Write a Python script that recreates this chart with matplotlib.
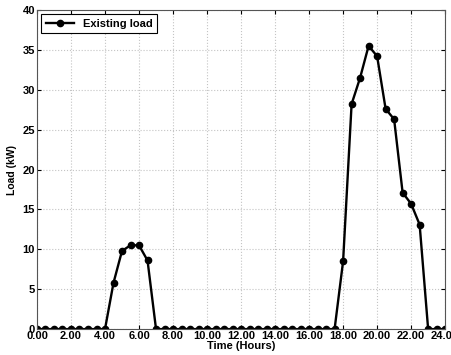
import numpy as np
import matplotlib.pyplot as plt

# Zeit in halben Stunden
hours = np.arange(0, 24.5, 0.5)
load = [0, 0, 0, 0, 0, 0, 0, 0, 0,          # 0.0 - 4.0
        5.8, 9.8, 10.5, 10.5, 8.6, 0,       # 4.5 - 7.0
        0, 0, 0, 0, 0, 0, 0, 0, 0, 0,       # 7.5 - 12.0
        0, 0, 0, 0, 0, 0, 0, 0, 0, 0, 0,    # 12.5 - 17.5
        8.5, 28.2, 31.5, 35.5, 34.2, 27.6, 26.3,  # 18.0 - 21.0
        17.1, 15.7, 13.1, 0, 0, 0]          # 21.5 - 24.0
xticks = np.arange(0, 25, 2)
xticklabels = ['%.2f' % v for v in xticks]

plt.rcParams['font.family'] = 'Liberation Sans'
plt.rcParams['font.weight'] = 'bold'

fig = plt.figure(figsize=(4.51, 3.55), dpi=100)
ax = fig.add_axes([0.082, 0.073, 0.905, 0.899])

ax.plot(hours, load, color='black', lw=1.7, marker='o', ms=4.5, label='Existing load')

ax.set_xlim(0, 24)
ax.set_ylim(0, 40)
ax.set_xticks(xticks)
ax.set_xticklabels(xticklabels)
ax.set_yticks(np.arange(0, 41, 5))
ax.tick_params(direction='in', top=True, right=True, labelsize=8, length=3, pad=1.5)
for lbl in ax.get_xticklabels() + ax.get_yticklabels():
    lbl.set_fontweight('bold')
ax.grid(True, linestyle=':', color='#c4c4c4', lw=0.8)
for s in ax.spines.values():
    s.set_color('#555555')
    s.set_linewidth(0.8)

ax.set_xlabel('Time (Hours)', fontsize=8, fontweight='bold', labelpad=0)
ax.set_ylabel('Load (kW)', fontsize=7.5, fontweight='bold', labelpad=4)
leg = ax.legend(loc='upper left', fontsize=8, fancybox=False, framealpha=1,
                edgecolor='black', borderaxespad=0.4, handlelength=2.5)
leg.get_frame().set_linewidth(0.8)
for t in leg.get_texts():
    t.set_fontweight('bold')

fig.savefig('out.png', dpi=100)
